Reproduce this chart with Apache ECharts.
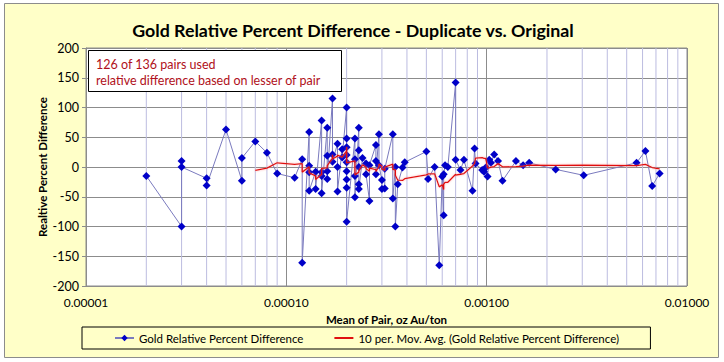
<!DOCTYPE html>
<html>
<head>
<meta charset="utf-8">
<script src="https://cdn.jsdelivr.net/npm/echarts@6/dist/echarts.min.js"></script>
<style>
html,body{margin:0;padding:0;background:#fff;}
#c{width:724px;height:362px;}
</style>
</head>
<body>
<div id="c"></div>
<script>
// Mean of pair (oz Au/ton), sorted ascending as in the source
const meanOfPair = [
  0.00002, 0.00003, 0.00003, 0.00003, 0.00004, 0.00004, 0.00005, 0.00006, 0.00006, 0.00007,
  0.00008, 0.00009, 0.00011, 0.00012, 0.00012, 0.00013, 0.00013, 0.00013, 0.00013, 0.00014,
  0.00014, 0.00015, 0.00015, 0.00015, 0.00015, 0.00016, 0.00016, 0.00016, 0.00016, 0.00017,
  0.00017, 0.00017, 0.00018, 0.00018, 0.00018, 0.00019, 0.00019, 0.0002, 0.0002, 0.0002,
  0.0002, 0.0002, 0.0002, 0.0002, 0.0002, 0.0002, 0.00022, 0.00022, 0.00022, 0.00022,
  0.00023, 0.00023, 0.00023, 0.00023, 0.00023, 0.00024, 0.00025, 0.00025, 0.00026, 0.00026,
  0.00028, 0.00028, 0.00028, 0.00029, 0.00029, 0.0003, 0.0003, 0.00031, 0.00031, 0.00034,
  0.00034, 0.00035, 0.00035, 0.00036, 0.00038, 0.00039, 0.0005, 0.00051, 0.00055, 0.00058,
  0.0006, 0.00061, 0.00061, 0.00062, 0.00064, 0.0007, 0.0007, 0.00074, 0.00077, 0.00085,
  0.00087, 0.00088, 0.00095, 0.00097, 0.00099, 0.00101, 0.00103, 0.00105, 0.00109, 0.00114,
  0.0012, 0.0014, 0.00152, 0.00163, 0.00221, 0.00305, 0.0056, 0.0062, 0.0067, 0.0073
];
// Relative percent difference (%)
const relPctDiff = [
  -15, -100, 10, 0, -19, -31, 63, -23, 15, 43,
  24, -11, -18, 13, -161, 59, 2, -9, -40, -8,
  -37, 78, -9, -15, -44, 66, 19, -7, -20, 115,
  21, 9, 39, 0, -41, 30, 16, 100, 48, 33,
  20, 8, -7, -21, -35, -92, 48, 13, -15, -51,
  66, 28, 0, -29, -37, 15, 6, -12, -57, 3,
  37, 10, -12, 55, 3, -22, -37, -36, -3, 55,
  -53, 0, -100, -29, -1, 8, 26, -20, 0, -165,
  -16, -81, -12, 3, 0, 142, 12, -5, 12, -40,
  31, 6, -5, -8, -1, -16, 12, 7, 21, 10,
  -23, 10, 3, 7, -4, -14, 7, 27, -32, -11
];
// Minor vertical gridlines (log axis, 2..9 per decade)
const minorGridValues = [
  0.00002, 0.00003, 0.00004, 0.00005, 0.00006, 0.00007, 0.00008, 0.00009,
  0.0002, 0.0003, 0.0004, 0.0005, 0.0006, 0.0007, 0.0008, 0.0009,
  0.002, 0.003, 0.004, 0.005, 0.006, 0.007, 0.008, 0.009
];
const yMin = -200, yMax = 200, yStep = 50;
const maPeriod = 10;
const titleText = 'Gold Relative Percent Difference - Duplicate vs. Original';
const noteLines = ['126 of 136 pairs used', 'relative difference based on lesser of pair'];
const seriesName = 'Gold Relative Percent Difference';
const maName = '10 per. Mov. Avg. (Gold Relative Percent Difference)';

const pts = meanOfPair.map((x, i) => [x, relPctDiff[i]]);
// Moving-average trendline, as the spreadsheet computes it from the series
const maPts = [];
for (let i = maPeriod - 1; i < relPctDiff.length; i++) {
  let s = 0;
  for (let k = i - maPeriod + 1; k <= i; k++) s += relPctDiff[k];
  maPts.push([meanOfPair[i], s / maPeriod]);
}

const FONT = 'Lato, "Open Sans", sans-serif';
const chart = echarts.init(document.getElementById('c'), null, {renderer: 'svg'});
chart.setOption({
  backgroundColor: '#ffffff',
  animation: false,
  graphic: [
    {type: 'rect', z: -10, silent: true,
     shape: {x: 4.5, y: 3.5, width: 714, height: 354},
     style: {fill: '#FFFFC8', stroke: '#8c8c8c', lineWidth: 1}},
    {type: 'text', z: 10, x: 353, y: 30,
     style: {text: titleText, font: 'bold 17.8px ' + FONT, fill: '#000', textAlign: 'center', textVerticalAlign: 'middle'}},
    {type: 'rect', z: 10, silent: true,
     shape: {x: 88.5, y: 50.5, width: 253, height: 41},
     style: {fill: '#ffffff', stroke: '#000', lineWidth: 1}},
    {type: 'text', z: 11, x: 96, y: 64,
     style: {text: noteLines[0], font: '12.5px ' + FONT, fill: '#B01020', textVerticalAlign: 'middle'}},
    {type: 'text', z: 11, x: 96, y: 80,
     style: {text: noteLines[1], font: '12.5px ' + FONT, fill: '#B01020', textVerticalAlign: 'middle'}}
  ],
  grid: {left: 86, right: 37, top: 48, bottom: 76, show: true, backgroundColor: '#ffffff', borderColor: '#8c8c8c', borderWidth: 1},
  legend: {
    left: 82, top: 327, width: 600,
    padding: [5, 31, 5, 32],
    borderColor: '#000', borderWidth: 1,
    itemWidth: 19, itemHeight: 8, itemGap: 30,
    textStyle: {fontFamily: FONT, fontSize: 11.5, color: '#000'},
    data: [
      seriesName,
      {name: maName, itemStyle: {opacity: 0}}
    ]
  },
  xAxis: {
    type: 'log', logBase: 10, min: 0.00001, max: 0.01,
    name: 'Mean of Pair, oz Au/ton', nameLocation: 'middle', nameGap: 27,
    nameTextStyle: {fontFamily: FONT, fontSize: 11.5, fontWeight: 'bold', color: '#000'},
    axisLine: {show: true, lineStyle: {color: '#8c8c8c'}},
    axisTick: {show: true, length: 4, lineStyle: {color: '#8c8c8c'}},
    axisLabel: {fontFamily: FONT, fontSize: 12, color: '#000', margin: 10,
                formatter: v => Number(v).toFixed(5)},
    splitLine: {show: true, lineStyle: {color: '#8c8c8c', width: 1}}
  },
  yAxis: {
    type: 'value', min: yMin, max: yMax, interval: yStep,
    name: 'Realtive Percent Difference', nameLocation: 'middle', nameGap: 38, nameRotate: 90,
    nameMoveOverlap: false,
    nameTextStyle: {fontFamily: FONT, fontSize: 11.5, fontWeight: 'bold', color: '#000'},
    axisLine: {show: true, lineStyle: {color: '#8c8c8c'}},
    axisTick: {show: true, length: 4, lineStyle: {color: '#8c8c8c'}},
    axisLabel: {fontFamily: FONT, fontSize: 12.5, color: '#000', margin: 7},
    splitLine: {show: true, lineStyle: {color: '#8c8c8c', width: 1}}
  },
  series: [
    {
      type: 'custom', name: '__minorGrid', z: 1, silent: true,
      data: minorGridValues.map(v => [v, 0]),
      encode: {x: 0, y: 1},
      clip: true,
      renderItem: function (params, api) {
        const v = api.value(0);
        const a = api.coord([v, yMax]);
        const b = api.coord([v, yMin]);
        return {type: 'line', shape: {x1: a[0], y1: a[1], x2: b[0], y2: b[1]},
                style: {stroke: '#BCBCE0', lineWidth: 1}};
      }
    },
    {
      type: 'line', name: seriesName, data: pts, z: 3,
      symbol: 'diamond', symbolSize: 8,
      itemStyle: {color: '#0000C8'},
      lineStyle: {color: '#7A7ABE', width: 1},
      emphasis: {disabled: true}
    },
    {
      type: 'line', name: maName, data: maPts, z: 4,
      symbol: 'none', showSymbol: false,
      itemStyle: {color: '#E01010'},
      lineStyle: {color: '#E01010', width: 1.3, shadowColor: 'rgba(255,120,120,0.6)', shadowBlur: 2},
      emphasis: {disabled: true}
    }
  ]
});
</script>
</body>
</html>
